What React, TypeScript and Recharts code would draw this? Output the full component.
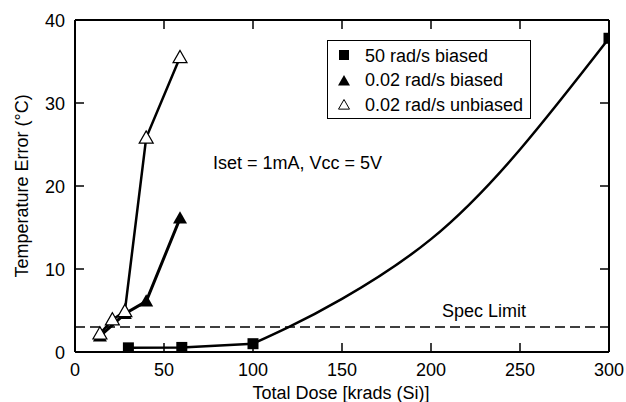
import React from 'react';
import { LineChart, Line, XAxis, YAxis, ReferenceLine } from 'recharts';

// axis ticks
const X_TICKS = [0, 50, 100, 150, 200, 250, 300];
const Y_TICKS = [0, 10, 20, 30, 40];

// 50 rad/s biased (measured points)
const DOSE_50_BIASED = [30, 60, 100, 300];
const ERR_50_BIASED = [0.5, 0.55, 1.0, 37.8];

// fitted curve drawn through the 50 rad/s points
const FIT_DOSE = [100, 120, 150, 200, 250, 300];
const FIT_ERR = [1.0, 3.0, 6.4, 13.6, 24.4, 37.8];

// 0.02 rad/s biased
const DOSE_002_BIASED = [14, 28, 40, 59];
const ERR_002_BIASED = [1.9, 4.6, 6.1, 16.1];

// 0.02 rad/s unbiased
const DOSE_002_UNBIASED = [14, 21, 28, 40, 59];
const ERR_002_UNBIASED = [2.2, 3.9, 4.9, 25.8, 35.5];

const SPEC_LIMIT = 3;
const LEGEND_LABELS = ['50 rad/s biased', '0.02 rad/s biased', '0.02 rad/s unbiased'];

const FONT = '"Liberation Sans", Arial, sans-serif';

// plot frame (from the chart margins below)
const PLOT_TOP = 20;
const PLOT_RIGHT = 609;
const TICK_LEN = 9;

const toPoints = (xs: number[], ys: number[]) => xs.map((x, i) => ({ x, y: ys[i] }));

const biased50 = toPoints(DOSE_50_BIASED, ERR_50_BIASED);
const fitCurve = toPoints(FIT_DOSE, FIT_ERR);
const biased002 = toPoints(DOSE_002_BIASED, ERR_002_BIASED);
const unbiased002 = toPoints(DOSE_002_UNBIASED, ERR_002_UNBIASED);

const SquareDot = (props: any) => {
  const { cx, cy, index } = props;
  return <rect key={`sq-${index}`} x={cx - 5.5} y={cy - 5.5} width={11} height={11} fill="#000" />;
};

const triPoints = (cx: number, cy: number, s: number) =>
  `${cx},${cy - s} ${cx - s},${cy + s * 0.75} ${cx + s},${cy + s * 0.75}`;

const FilledTri = (props: any) => {
  const { cx, cy, index } = props;
  return <polygon key={`ft-${index}`} points={triPoints(cx, cy, 7)} fill="#000" />;
};

const OpenTri = (props: any) => {
  const { cx, cy, index } = props;
  return (
    <polygon key={`ot-${index}`} points={triPoints(cx, cy, 7)} fill="#fff" stroke="#000" strokeWidth={1.2} />
  );
};

// inward ticks on bottom + mirrored on top
const BottomTick = ({ x, y, payload }: any) => (
  <g>
    <line x1={x} y1={y} x2={x} y2={y - TICK_LEN} stroke="#000" strokeWidth={1.5} />
    <line x1={x} y1={PLOT_TOP} x2={x} y2={PLOT_TOP + TICK_LEN} stroke="#000" strokeWidth={1.5} />
    <text x={x} y={y + 24} textAnchor="middle" fontSize={18} fill="#000" fontFamily={FONT}>
      {payload.value}
    </text>
  </g>
);

// inward ticks on left + mirrored on right
const LeftTick = ({ x, y, payload }: any) => (
  <g>
    <line x1={x} y1={y} x2={x + TICK_LEN} y2={y} stroke="#000" strokeWidth={1.5} />
    <line x1={PLOT_RIGHT} y1={y} x2={PLOT_RIGHT - TICK_LEN} y2={y} stroke="#000" strokeWidth={1.5} />
    <text x={x - 10} y={y + 6.5} textAnchor="end" fontSize={18} fill="#000" fontFamily={FONT}>
      {payload.value}
    </text>
  </g>
);

const axisLine = { stroke: '#000', strokeWidth: 2 };

export default function App() {
  return (
    <div style={{ position: 'absolute', left: 0, top: 0, width: 626, height: 402, background: '#fff', fontFamily: FONT }}>
      <LineChart width={626} height={402} margin={{ top: 19, right: 16, left: 0, bottom: 0 }}>
        <XAxis
          type="number"
          dataKey="x"
          domain={[0, 300]}
          ticks={X_TICKS}
          interval={0}
          height={50}
          axisLine={axisLine}
          tickLine={false}
          tickSize={0}
          tickMargin={0}
          tick={BottomTick}
          allowDataOverflow
        />
        <XAxis
          xAxisId="top"
          orientation="top"
          type="number"
          domain={[0, 300]}
          ticks={X_TICKS}
          height={1}
          axisLine={axisLine}
          tickLine={false}
          tick={false}
        />
        <YAxis
          type="number"
          domain={[0, 40]}
          ticks={Y_TICKS}
          interval={0}
          width={75}
          axisLine={axisLine}
          tickLine={false}
          tickSize={0}
          tickMargin={0}
          tick={LeftTick}
          allowDataOverflow
        />
        <YAxis
          yAxisId="right"
          orientation="right"
          type="number"
          domain={[0, 40]}
          ticks={Y_TICKS}
          width={1}
          axisLine={axisLine}
          tickLine={false}
          tick={false}
        />
        <ReferenceLine y={SPEC_LIMIT} stroke="#000" strokeWidth={1.5} strokeDasharray="10 5" />
        <Line
          data={fitCurve}
          dataKey="y"
          type="natural"
          stroke="#000"
          strokeWidth={2.5}
          dot={false}
          isAnimationActive={false}
        />
        <Line
          data={biased50.slice(0, 3)}
          dataKey="y"
          type="linear"
          stroke="#000"
          strokeWidth={2.5}
          dot={false}
          isAnimationActive={false}
        />
        <Line
          data={biased50}
          dataKey="y"
          stroke="none"
          dot={SquareDot}
          isAnimationActive={false}
        />
        <Line
          data={biased002}
          dataKey="y"
          type="linear"
          stroke="#000"
          strokeWidth={3}
          dot={FilledTri}
          isAnimationActive={false}
        />
        <Line
          data={unbiased002}
          dataKey="y"
          type="linear"
          stroke="#000"
          strokeWidth={2.5}
          dot={OpenTri}
          isAnimationActive={false}
        />
      </LineChart>
      <svg
        width={626}
        height={402}
        style={{ position: 'absolute', left: 0, top: 0, pointerEvents: 'none' }}
        fontFamily={FONT}
        fontSize={18}
      >
        <text transform="translate(28,186) rotate(-90)" textAnchor="middle" fill="#000">
          Temperature Error (°C)
        </text>
        <text x={341} y={399} textAnchor="middle" fill="#000">
          Total Dose [krads (Si)]
        </text>
        <text x={213} y={169} fill="#000">
          Iset = 1mA, Vcc = 5V
        </text>
        <text x={526} y={317} textAnchor="end" fill="#000">
          Spec Limit
        </text>
        <rect x={327.5} y={40.5} width={203} height={78} fill="#fff" stroke="#000" strokeWidth={1} />
        <rect x={339} y={50} width={10} height={10} fill="#000" />
        <polygon points={triPoints(344, 81, 6)} fill="#000" />
        <polygon points={triPoints(344, 105, 5.5)} fill="#fff" stroke="#000" strokeWidth={1} />
        {LEGEND_LABELS.map((label, i) => (
          <text key={label} x={365} y={61.5 + i * 24.5} fill="#000">
            {label}
          </text>
        ))}
      </svg>
    </div>
  );
}
